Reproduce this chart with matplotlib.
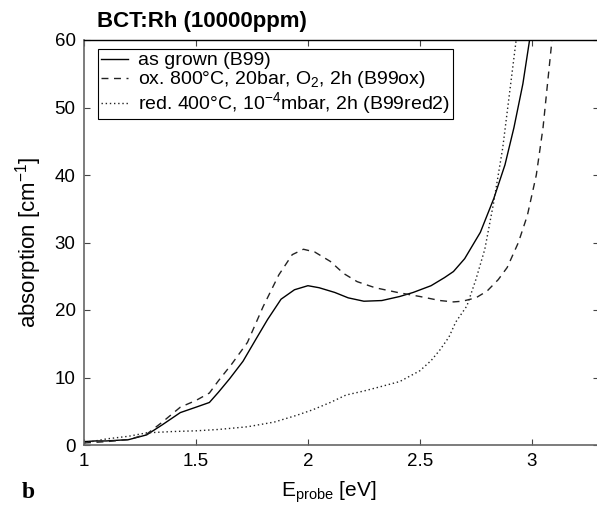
import matplotlib

matplotlib.use("Agg")
import matplotlib.pyplot as plt  # noqa: E402

plt.rcParams["font.family"] = ["Liberation Sans", "DejaVu Sans"]
plt.rcParams["mathtext.fontset"] = "custom"
plt.rcParams["mathtext.rm"] = "Liberation Sans"
plt.rcParams["mathtext.it"] = "Liberation Sans"

# as grown (B99)
e_grown = [1.00, 1.05, 1.10, 1.20, 1.28, 1.35, 1.43, 1.50, 1.56, 1.60, 1.65, 1.71, 1.77,
           1.82, 1.88, 1.94, 2.00, 2.05, 2.12, 2.18, 2.25, 2.33, 2.41, 2.47, 2.55, 2.61,
           2.65, 2.70, 2.77, 2.83, 2.88, 2.92, 2.96, 2.99]
a_grown = [0.5, 0.6, 0.6, 0.8, 1.5, 3.0, 4.8, 5.6, 6.3, 7.8, 9.8, 12.4, 15.8,
           18.6, 21.6, 23.0, 23.6, 23.3, 22.6, 21.8, 21.3, 21.4, 22.0, 22.6, 23.6, 24.8,
           25.7, 27.6, 31.5, 36.5, 41.5, 47.0, 53.5, 60.0]

# ox. 800C, 20bar, O2, 2h (B99ox)
e_ox = [1.00, 1.05, 1.10, 1.20, 1.28, 1.35, 1.43, 1.50, 1.56, 1.60, 1.66, 1.73, 1.80,
        1.87, 1.93, 1.98, 2.03, 2.10, 2.16, 2.22, 2.30, 2.40, 2.50, 2.59, 2.65, 2.69,
        2.75, 2.80, 2.85, 2.89, 2.94, 2.98, 3.02, 3.05, 3.09]
a_ox = [0.3, 0.4, 0.5, 0.8, 1.6, 3.4, 5.6, 6.6, 7.7, 9.5, 12.0, 15.2, 20.5,
        25.2, 28.2, 29.0, 28.6, 27.2, 25.4, 24.2, 23.3, 22.6, 22.0, 21.4, 21.2, 21.3,
        21.8, 22.8, 24.5, 26.3, 30.0, 34.0, 40.0, 47.0, 60.0]

# red. 400C, 1e-4 mbar, 2h (B99red2)
e_red = [1.00, 1.05, 1.10, 1.20, 1.28, 1.40, 1.50, 1.60, 1.73, 1.85, 1.95, 2.02, 2.10,
         2.17, 2.25, 2.32, 2.41, 2.50, 2.55, 2.59, 2.63, 2.66, 2.71, 2.75, 2.79, 2.83,
         2.87, 2.90, 2.93]
a_red = [0.3, 0.6, 0.9, 1.3, 1.8, 2.0, 2.1, 2.3, 2.7, 3.4, 4.4, 5.2, 6.3,
         7.4, 8.0, 8.6, 9.4, 11.0, 12.5, 14.1, 16.0, 18.2, 20.6, 24.5, 29.0, 36.0,
         44.0, 52.0, 60.0]

labels = [
    "as grown (B99)",
    "ox. 800°C, 20bar, O$_2$, 2h (B99ox)",
    "red. 400°C, 10$^{-4}$mbar, 2h (B99red2)",
]

fig = plt.figure(figsize=(5.97, 5.26), dpi=100)
ax = fig.add_axes([84 / 597, 1 - 445 / 526, (599 - 84) / 597, (445 - 40) / 526])

ax.plot(e_grown, a_grown, color="black", lw=1.0, ls="-", label=labels[0])
ax.plot(e_ox, a_ox, color="#222222", lw=1.0, ls=(0, (5, 4)), label=labels[1])
ax.plot(e_red, a_red, color="#222222", lw=1.0, ls=(0, (1, 2)), label=labels[2])

ax.set_xlim(1, 3.3)
ax.set_ylim(0, 60)
ax.set_xticks([1, 1.5, 2, 2.5, 3])
ax.set_xticklabels(["1", "1.5", "2", "2.5", "3"])
ax.set_yticks([0, 10, 20, 30, 40, 50, 60])
ax.tick_params(direction="in", length=4, width=0.8, labelsize=13.5,
               top=True, right=True, color="#444444", pad=6)
for side in ["left", "bottom"]:
    ax.spines[side].set_color("#666666")
    ax.spines[side].set_linewidth(1.2)
ax.spines["top"].set_linewidth(1.0)

ax.set_ylabel("absorption [cm$^{-1}$]", fontsize=16, labelpad=8)

leg = ax.legend(loc="upper left", bbox_to_anchor=(0.027, 0.978), fontsize=14,
                frameon=True, fancybox=False, edgecolor="black", framealpha=1,
                handlelength=1.4, handletextpad=0.5, borderpad=0.15,
                labelspacing=0.0, borderaxespad=0)
leg.get_frame().set_linewidth(0.8)

fig.text(97 / 597, 1 - 22 / 526, "BCT:Rh (10000ppm)", fontsize=16,
         fontweight="bold", va="center", ha="left")
fig.text(329 / 597, 1 - 492 / 526, r"E$_{\mathrm{probe}}$ [eV]", fontsize=15,
         va="center", ha="center")
fig.text(22 / 597, 1 - 492 / 526, "b", fontsize=17, fontweight="bold",
         family="Liberation Serif", va="center", ha="left")

fig.savefig("out.png", dpi=100)
